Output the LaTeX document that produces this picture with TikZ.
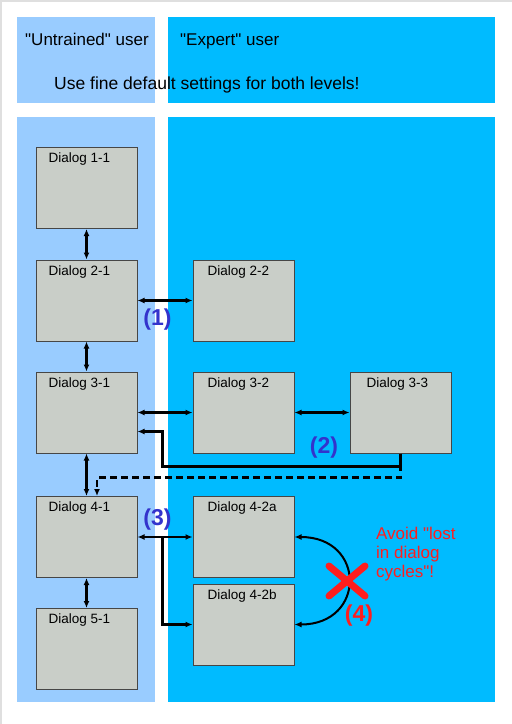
\documentclass[tikz,border=0pt]{standalone}
\usepackage{fontspec}
\setmainfont{Liberation Sans}[Ligatures=TeXOff]
\usetikzlibrary{arrows.meta}
\definecolor{lightpanel}{RGB}{153,204,255}
\definecolor{darkpanel}{RGB}{0,187,255}
\definecolor{boxfill}{RGB}{201,206,200}
\definecolor{boxline}{RGB}{70,70,70}
\definecolor{stepblue}{RGB}{51,51,204}
\definecolor{warnred}{RGB}{255,30,30}
\begin{document}
\begin{tikzpicture}[x=1pt, y=-1pt, >={Latex[length=7pt,width=6pt]},
  dialog/.style={draw=boxline, fill=boxfill, line width=1pt, minimum width=101pt, minimum height=81pt, inner sep=0pt},
  dlgname/.style={anchor=north west, inner sep=0pt, xshift=13pt, yshift=-6pt, font=\fontsize{13.5}{16}\selectfont},
  headline/.style={anchor=base west, inner sep=0pt, font=\fontsize{17}{20}\selectfont},
  link/.style={<->, line width=2.2pt},
  vlink/.style={<->, line width=2.8pt},
  marker/.style={font=\fontsize{23}{25}\selectfont\bfseries, text=stepblue}]

\useasboundingbox (0,0) rectangle (512,724);
\draw[gray!25, line width=1.5pt] (0.75,724) -- (0.75,0.75) -- (512,0.75);

\fill[lightpanel] (17,17) rectangle (155,103);
\fill[darkpanel] (168,17) rectangle (495,103);
\fill[lightpanel] (17,117) rectangle (155,702);
\fill[darkpanel] (168,117) rectangle (495,702);

\node[headline] (untrained) at (25,45) {"Untrained" user};
\node[headline] (expert) at (180,45) {"Expert" user};
\node[headline, font=\fontsize{17.5}{20}\selectfont] (hint) at (54,89) {Use fine default settings for both levels!};

\node[dialog, label={[dlgname]north west:Dialog 1-1}] (d11) at (86.5,188) {};
\node[dialog, label={[dlgname]north west:Dialog 2-1}] (d21) at (86.5,300.5) {};
\node[dialog, label={[dlgname]north west:Dialog 3-1}] (d31) at (86.5,412.5) {};
\node[dialog, label={[dlgname]north west:Dialog 4-1}] (d41) at (86.5,537) {};
\node[dialog, label={[dlgname]north west:Dialog 5-1}] (d51) at (86.5,649) {};
\node[dialog, label={[dlgname, xshift=2pt]north west:Dialog 2-2}] (d22) at (243.5,300.5) {};
\node[dialog, label={[dlgname, xshift=2pt]north west:Dialog 3-2}] (d32) at (243.5,412.5) {};
\node[dialog, label={[dlgname, xshift=4pt]north west:Dialog 3-3}] (d33) at (400.5,412.5) {};
\node[dialog, label={[dlgname, xshift=2pt]north west:Dialog 4-2a}] (d42a) at (243.5,537) {};
\node[dialog, label={[dlgname, xshift=2pt]north west:Dialog 4-2b}] (d42b) at (243.5,624.5) {};

\draw[vlink] (d11) -- (d21);
\draw[vlink] (d21) -- (d31);
\draw[vlink] (d31) -- (d41);
\draw[vlink] (d41) -- (d51);
\draw[link] (d21) -- (d22);
\draw[link] (d31) -- (d32);
\draw[link] (d32) -- (d33);
\draw[link] (d41) -- (d42a);

\draw[->, line width=2.5pt] (d33.south) -- ++(0,13) -| ([xshift=25pt,yshift=-19pt]d31.east) -- ([yshift=-19pt]d31.east);
\draw[->, line width=2.5pt, dash pattern=on 6.5pt off 4.5pt] (d33.south) -- ++(0,24) -| ([xshift=10.5pt]d41.north);
\draw[->, line width=2.5pt] ([xshift=25pt]d41.east) |- (d42b.west);
\draw[<->, line width=2pt] (d42a.east) to[out=0, in=0, looseness=2.1] (d42b.east);

\coordinate (cross) at (347,581);
\draw[warnred, line width=7pt, line cap=round] ([shift={(-18,-15)}]cross) -- ([shift={(18,15)}]cross) ([shift={(-18,15)}]cross) -- ([shift={(18,-15)}]cross);

\node[marker] (m1) at (157.5,320) {(1)};
\node[marker] (m2) at (324,448) {(2)};
\node[marker] (m3) at (157.5,519.5) {(3)};
\node[marker, text=warnred] (m4) at (359,616) {(4)};
\node[anchor=north west, align=left, inner sep=0pt, text=warnred, font=\fontsize{17}{19}\selectfont] (avoid) at (376,527) {Avoid "lost\\in dialog\\cycles"!};
\end{tikzpicture}
\end{document}
